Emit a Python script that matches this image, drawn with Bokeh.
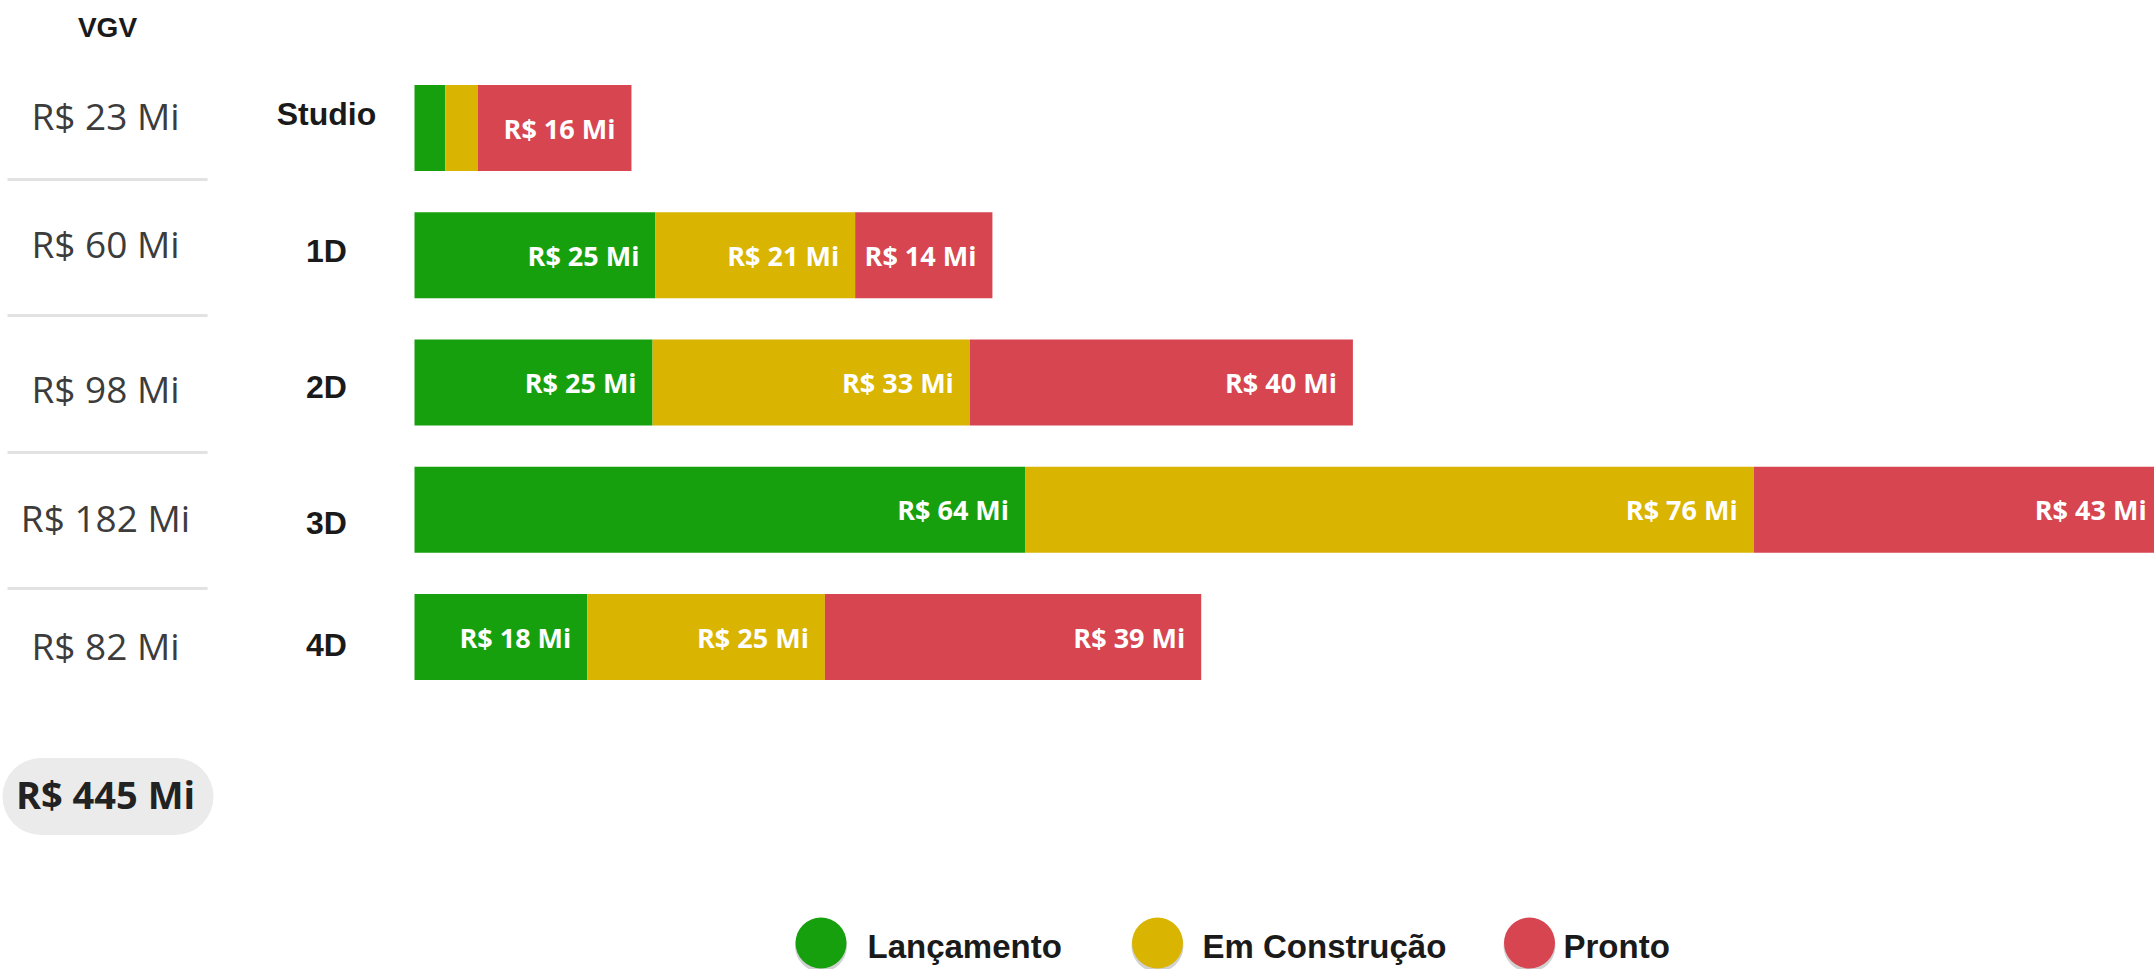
from bokeh.plotting import figure
from bokeh.models import ColumnDataSource, Range1d
from bokeh.core.properties import value
from bokeh.embed import file_html
from bokeh.resources import INLINE

# ---------------- data ----------------
categories = ["Studio", "1D", "2D", "3D", "4D"]
lancamento = [3.2, 25.1, 24.8, 63.6, 18.0]
construcao = [3.4, 20.8, 33.05, 75.9, 24.75]
pronto = [16.0, 14.3, 39.9, 42.6, 39.2]
series_names = ["Lançamento", "Em Construção", "Pronto"]
header = "VGV"

# ---------------- style / layout ----------------
colors = ["#17A00E", "#D9B400", "#D64550"]
W, H = 2154, 969
PX_PER_MI = 9.6
X0_PX = 414.0            # pixel where value 0 sits
ROW0_PX = 127.5          # pixel centre of first row
ROW_STEP = 127.25        # pixels between rows
BAR_H = 86 / ROW_STEP

x_start = -X0_PX / PX_PER_MI
x_end = x_start + W / PX_PER_MI
y_top = -ROW0_PX / ROW_STEP
y_bottom = y_top + H / ROW_STEP


def px2x(px):
    return x_start + px / PX_PER_MI


def px2y(py):
    return y_top + py / ROW_STEP


p = figure(width=W, height=H, output_backend="svg", toolbar_location=None,
           x_range=Range1d(x_start, x_end), y_range=Range1d(y_bottom, y_top),
           x_axis_location=None, y_axis_location=None, min_border=0,
           background_fill_color="white", border_fill_color="white")
p.grid.visible = False
p.outline_line_color = None

rows = list(range(len(categories)))
keys = ["lanc", "cons", "pron"]
src = ColumnDataSource(dict(row=rows, lanc=lancamento, cons=construcao, pron=pronto))
p.hbar_stack(keys, y="row", height=BAR_H, color=colors, line_color=None, source=src)

# segment labels
cum = [0.0] * len(rows)
for vals in (lancamento, construcao, pronto):
    xs, ys, ts = [], [], []
    for i, v in enumerate(vals):
        cum[i] += v
        if v >= 10:
            xs.append(cum[i])
            ys.append(rows[i])
            ts.append(f"R$ {round(v)} Mi")
    p.text(x=xs, y=ys, text=ts, text_font=value("Open Sans"), text_font_style="bold",
           text_font_size="27px", text_color="white", text_align="right",
           text_baseline="middle", x_offset=-16)

totals = [a + b + c for a, b, c in zip(lancamento, construcao, pronto)]
grand = sum(totals)

# left VGV column
p.text(x=[px2x(107)], y=[px2y(27)], text=[header], text_font=value("Liberation Sans"),
       text_font_style="bold", text_font_size="28px", text_color="#1a1a1a",
       text_align="center", text_baseline="middle")
vgv_py = [115, 243, 388, 517, 645]
p.text(x=[px2x(105)] * len(totals), y=[px2y(v) for v in vgv_py],
       text=[f"R$ {round(t)} Mi" for t in totals], text_font=value("Open Sans"),
       text_font_size="37px", text_color="#3c3c3c", text_align="center",
       text_baseline="middle")
sep_py = [179, 315, 452, 588]
p.segment(x0=[px2x(7)] * 4, x1=[px2x(207)] * 4, y0=[px2y(v) for v in sep_py],
          y1=[px2y(v) for v in sep_py], line_color="#e2e2e2", line_width=3)

# total pill
pill_y = px2y(796)
p.rect(x=[px2x(107.5)], y=[pill_y], width=134, height=77, width_units="screen",
       height_units="screen", fill_color="#ebebeb", line_color=None)
p.scatter(x=[px2x(40.5), px2x(174.5)], y=[pill_y, pill_y], size=77, marker="circle",
          fill_color="#ebebeb", line_color=None)
p.text(x=[px2x(105)], y=[px2y(793)], text=[f"R$ {round(grand)} Mi"],
       text_font=value("Open Sans"), text_font_style="bold", text_font_size="38px",
       text_color="#222222", text_align="center", text_baseline="middle")

# category labels
cat_py = [113, 250, 386, 522, 644]
p.text(x=[px2x(326)] * len(categories), y=[px2y(v) for v in cat_py], text=categories,
       text_font=value("Liberation Sans"), text_font_style="bold", text_font_size="32px",
       text_color="#1a1a1a", text_align="center", text_baseline="middle")

# legend
leg_cx = [820.5, 1157, 1529]
leg_tx = [867, 1202, 1563]
p.scatter(x=[px2x(c) for c in leg_cx], y=[px2y(945.5)] * 3, size=52, marker="circle",
          fill_color="#000000", fill_alpha=0.18, line_color=None)
p.scatter(x=[px2x(c) for c in leg_cx], y=[px2y(942.5)] * 3, size=51, marker="circle",
          fill_color=colors, line_color=None)
p.text(x=[px2x(t) for t in leg_tx], y=[px2y(946)] * 3, text=series_names,
       text_font=value("Liberation Sans"), text_font_style="bold", text_font_size="33px",
       text_color="#1a1a1a", text_align="left", text_baseline="middle")

open("out.html", "w").write(file_html(p, INLINE))
